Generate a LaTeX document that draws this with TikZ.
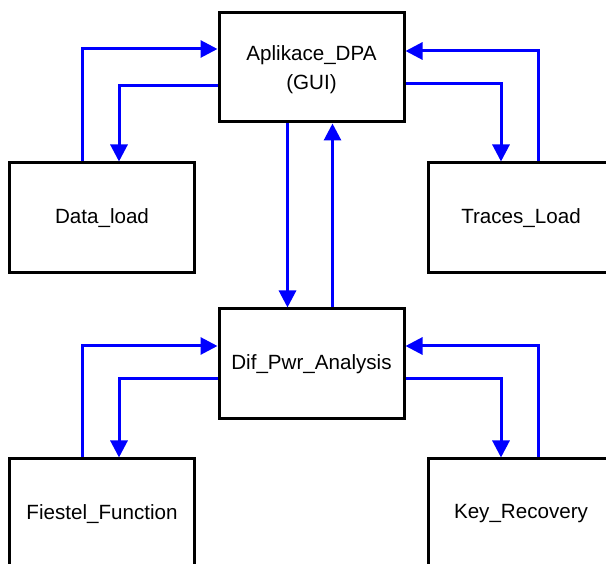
\documentclass[tikz,border=0pt]{standalone}
\usepackage{fontspec}
\setmainfont{Liberation Sans}
\usetikzlibrary{arrows.meta}
\definecolor{linkblue}{RGB}{0,0,255}
\tikzset{
  box/.style={draw=black, line width=3pt, rectangle, inner sep=0pt,
    minimum width=185pt, minimum height=110pt, align=center,
    font=\fontsize{20.6}{29}\selectfont},
  conn/.style={draw=linkblue, line width=3pt,
    -{Triangle[length=17pt,width=17pt]}},
}
\begin{document}
\begin{tikzpicture}[x=1pt,y=-1pt]
\clip (0,0) rectangle (606,564);
\fill[white] (0,0) rectangle (606,564);
\node[box, minimum height=109pt] (app) at (311.5,67.5) {};
\node[align=center, inner sep=0pt, font=\fontsize{20.6}{29}\selectfont] (apptext) at (311.5,70) {Aplikace\_DPA\\(GUI)};
\node[box] (dl) at (102,218) {Data\_load};
\node[box] (tl) at (521,218) {Traces\_Load};
\node[box] (dif) at (311.5,364) {Dif\_Pwr\_Analysis};
\node[box] (ff) at (102,514) {Fiestel\_Function};
\node[box] (kr) at (521,514) {Key\_Recovery};
% top group
\draw[conn] ([xshift=74pt]dl.north west) |- ([yshift=18.5pt]app.west);
\draw[conn] ([yshift=-18.5pt]app.west) -| ([xshift=111pt]dl.north west);
\draw[conn] ([yshift=-16.5pt]app.east) -| ([xshift=74pt]tl.north west);
\draw[conn] ([xshift=111pt]tl.north west) |- ([yshift=16.5pt]app.east);
\draw[conn] ([xshift=70pt]app.south west) -- ([xshift=70pt]dif.north west);
\draw[conn] ([xshift=115pt]dif.north west) -- ([xshift=115pt]app.south west);
% bottom group
\draw[conn] ([xshift=74pt]ff.north west) |- ([yshift=18pt]dif.west);
\draw[conn] ([yshift=-15pt]dif.west) -| ([xshift=111pt]ff.north west);
\draw[conn] ([yshift=-15pt]dif.east) -| ([xshift=74pt]kr.north west);
\draw[conn] ([xshift=111pt]kr.north west) |- ([yshift=18pt]dif.east);
\end{tikzpicture}
\end{document}
